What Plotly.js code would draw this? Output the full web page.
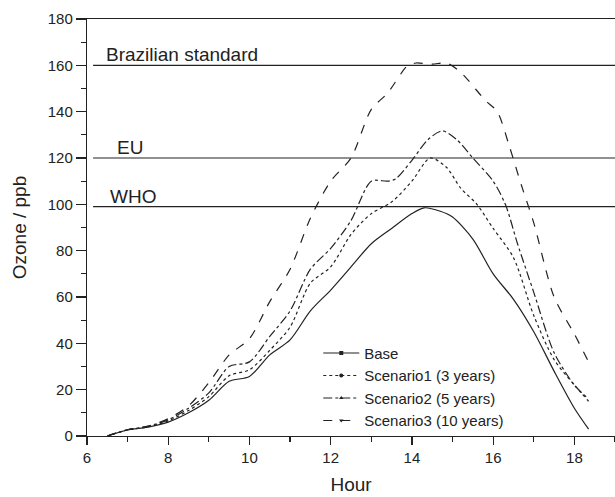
<!DOCTYPE html>
<html>
<head>
<meta charset="utf-8">
<script src="https://cdn.plot.ly/plotly-3.0.1.min.js"></script>
<style>html,body{margin:0;padding:0;background:#fff;}#chart{width:615px;height:497px;}</style>
</head>
<body>
<div id="chart"></div>
<script>
// Data
const baseHours = [6.5, 7, 7.5, 8, 8.5, 9, 9.5, 10, 10.5, 11, 11.5, 12, 12.5, 13, 13.5, 14, 14.3, 14.7, 15, 15.5, 16, 16.5, 17, 17.5, 18, 18.35];
const baseValues = [0, 2.6, 3.8, 6, 10, 15.4, 23.6, 25.7, 35, 41.5, 54, 63, 73, 83, 89.6, 96, 98.5, 97, 94.5, 85, 70, 59, 45, 28, 12, 3];

const s1Hours = [6.5, 7, 7.5, 8, 8.5, 9, 9.5, 10, 10.5, 11, 11.5, 12, 12.5, 13, 13.5, 14, 14.45, 14.85, 15.2, 15.6, 16, 16.5, 17, 17.5, 18, 18.35];
const s1Values = [0, 2.6, 3.9, 6.5, 11, 17, 26, 28.6, 37, 47, 66, 73, 87, 96, 101, 110, 120, 116, 107, 100, 89.6, 77, 52, 33, 22, 15];

const s2Hours = [6.5, 7, 7.5, 8, 8.5, 9, 9.5, 10, 10.5, 11, 11.5, 12, 12.5, 13, 13.4, 13.6, 14, 14.4, 14.75, 15.1, 15.5, 16, 16.3, 16.6, 17, 17.5, 18, 18.35];
const s2Values = [0, 2.7, 4.2, 7, 12, 18.6, 30, 32, 43, 54, 72, 81, 93, 110, 110, 111, 119, 128, 131.7, 128, 120, 110, 100, 83, 62, 36, 22, 16];

const s3Hours = [6.5, 7, 7.5, 8, 8.5, 9, 9.5, 10, 10.5, 11, 11.5, 12, 12.5, 13, 13.4, 13.9, 14.1, 14.5, 14.85, 15.2, 15.8, 16.1, 16.4, 16.7, 17, 17.5, 18, 18.35];
const s3Values = [0, 2.7, 4.3, 7.5, 13, 23, 35, 42, 58, 72, 94, 110, 120, 141, 148, 160, 161, 160.5, 161, 157, 145, 140, 125, 108, 92, 60, 44, 32];

const seriesNames = ['Base', 'Scenario1 (3 years)', 'Scenario2 (5 years)', 'Scenario3 (10 years)'];

const standardNames = ['Brazilian standard', 'EU', 'WHO'];
const standardValues = [160, 120, 99];
const standardStart = [6.15, 6.15, 6.15];
const standardLabelX = [6.42, 6.7, 6.52];

const xTickVals = [6, 8, 10, 12, 14, 16, 18];
const yTickVals = [0, 20, 40, 60, 80, 100, 120, 140, 160, 180];

const ink = '#222222';
const font = 'Liberation Sans, Arial, sans-serif';
const dashes = ['solid', 'dot', 'dashdot', 'dash'];
const symbols = ['square', 'circle', 'triangle-up', 'triangle-down'];
const hours = [baseHours, s1Hours, s2Hours, s3Hours];
const values = [baseValues, s1Values, s2Values, s3Values];

const traces = [];
// standard lines
standardValues.forEach((v, i) => {
  traces.push({x: [standardStart[i], 19], y: [v, v], mode: 'lines', line: {color: ink, width: 1.2}, showlegend: false, hoverinfo: 'skip'});
});
// curves
hours.forEach((h, i) => {
  traces.push({x: h, y: values[i], mode: 'lines', line: {color: ink, width: 1.2, dash: dashes[i], shape: 'spline', smoothing: 0.8}, showlegend: false, name: seriesNames[i]});
});
// legend entries
seriesNames.forEach((n, i) => {
  traces.push({x: [null], y: [null], mode: 'lines+markers', name: n, line: {color: ink, width: 1.2, dash: dashes[i]}, marker: {symbol: symbols[i], size: 4, color: ink}});
});

const annotations = standardNames.map((n, i) => ({
  x: standardLabelX[i], y: standardValues[i], xref: 'x', yref: 'y', text: n, showarrow: false,
  xanchor: 'left', yanchor: 'bottom', font: {family: font, size: 19, color: ink}, yshift: -2
}));

const layout = {
  width: 615, height: 497,
  margin: {l: 87, r: 0, t: 19, b: 61, pad: 0},
  paper_bgcolor: '#fff', plot_bgcolor: '#fff',
  font: {family: font, color: ink},
  showlegend: true,
  legend: {x: 0.438, y: 0.238, xanchor: 'left', yanchor: 'top', bgcolor: 'rgba(0,0,0,0)', font: {family: font, size: 15, color: ink}, tracegroupgap: 0, itemwidth: 36},
  xaxis: {
    range: [6, 19], tickvals: xTickVals, ticks: 'outside', ticklen: 8, tickwidth: 1.2, tickcolor: ink,
    showline: true, linecolor: ink, linewidth: 1.2, mirror: true, showgrid: false, zeroline: false,
    tickfont: {family: font, size: 15, color: ink},
    minor: {dtick: 1, tick0: 6, ticks: 'outside', ticklen: 4.5, tickwidth: 1.2, tickcolor: ink, showgrid: false},
    title: {text: 'Hour', font: {family: font, size: 19, color: ink}, standoff: 12}
  },
  yaxis: {
    range: [0, 180], tickvals: yTickVals, ticks: 'outside', ticklen: 10, tickwidth: 1.2, tickcolor: ink,
    showline: true, linecolor: ink, linewidth: 1.2, showgrid: false, zeroline: false,
    tickfont: {family: font, size: 15, color: ink},
    minor: {dtick: 10, tick0: 0, ticks: 'outside', ticklen: 4.5, tickwidth: 1.2, tickcolor: ink, showgrid: false},
    title: {text: 'Ozone / ppb', font: {family: font, size: 19, color: ink}, standoff: 16}
  },
  annotations: annotations
};

Plotly.newPlot('chart', traces, layout, {displayModeBar: false, staticPlot: true});
</script>
</body>
</html>
